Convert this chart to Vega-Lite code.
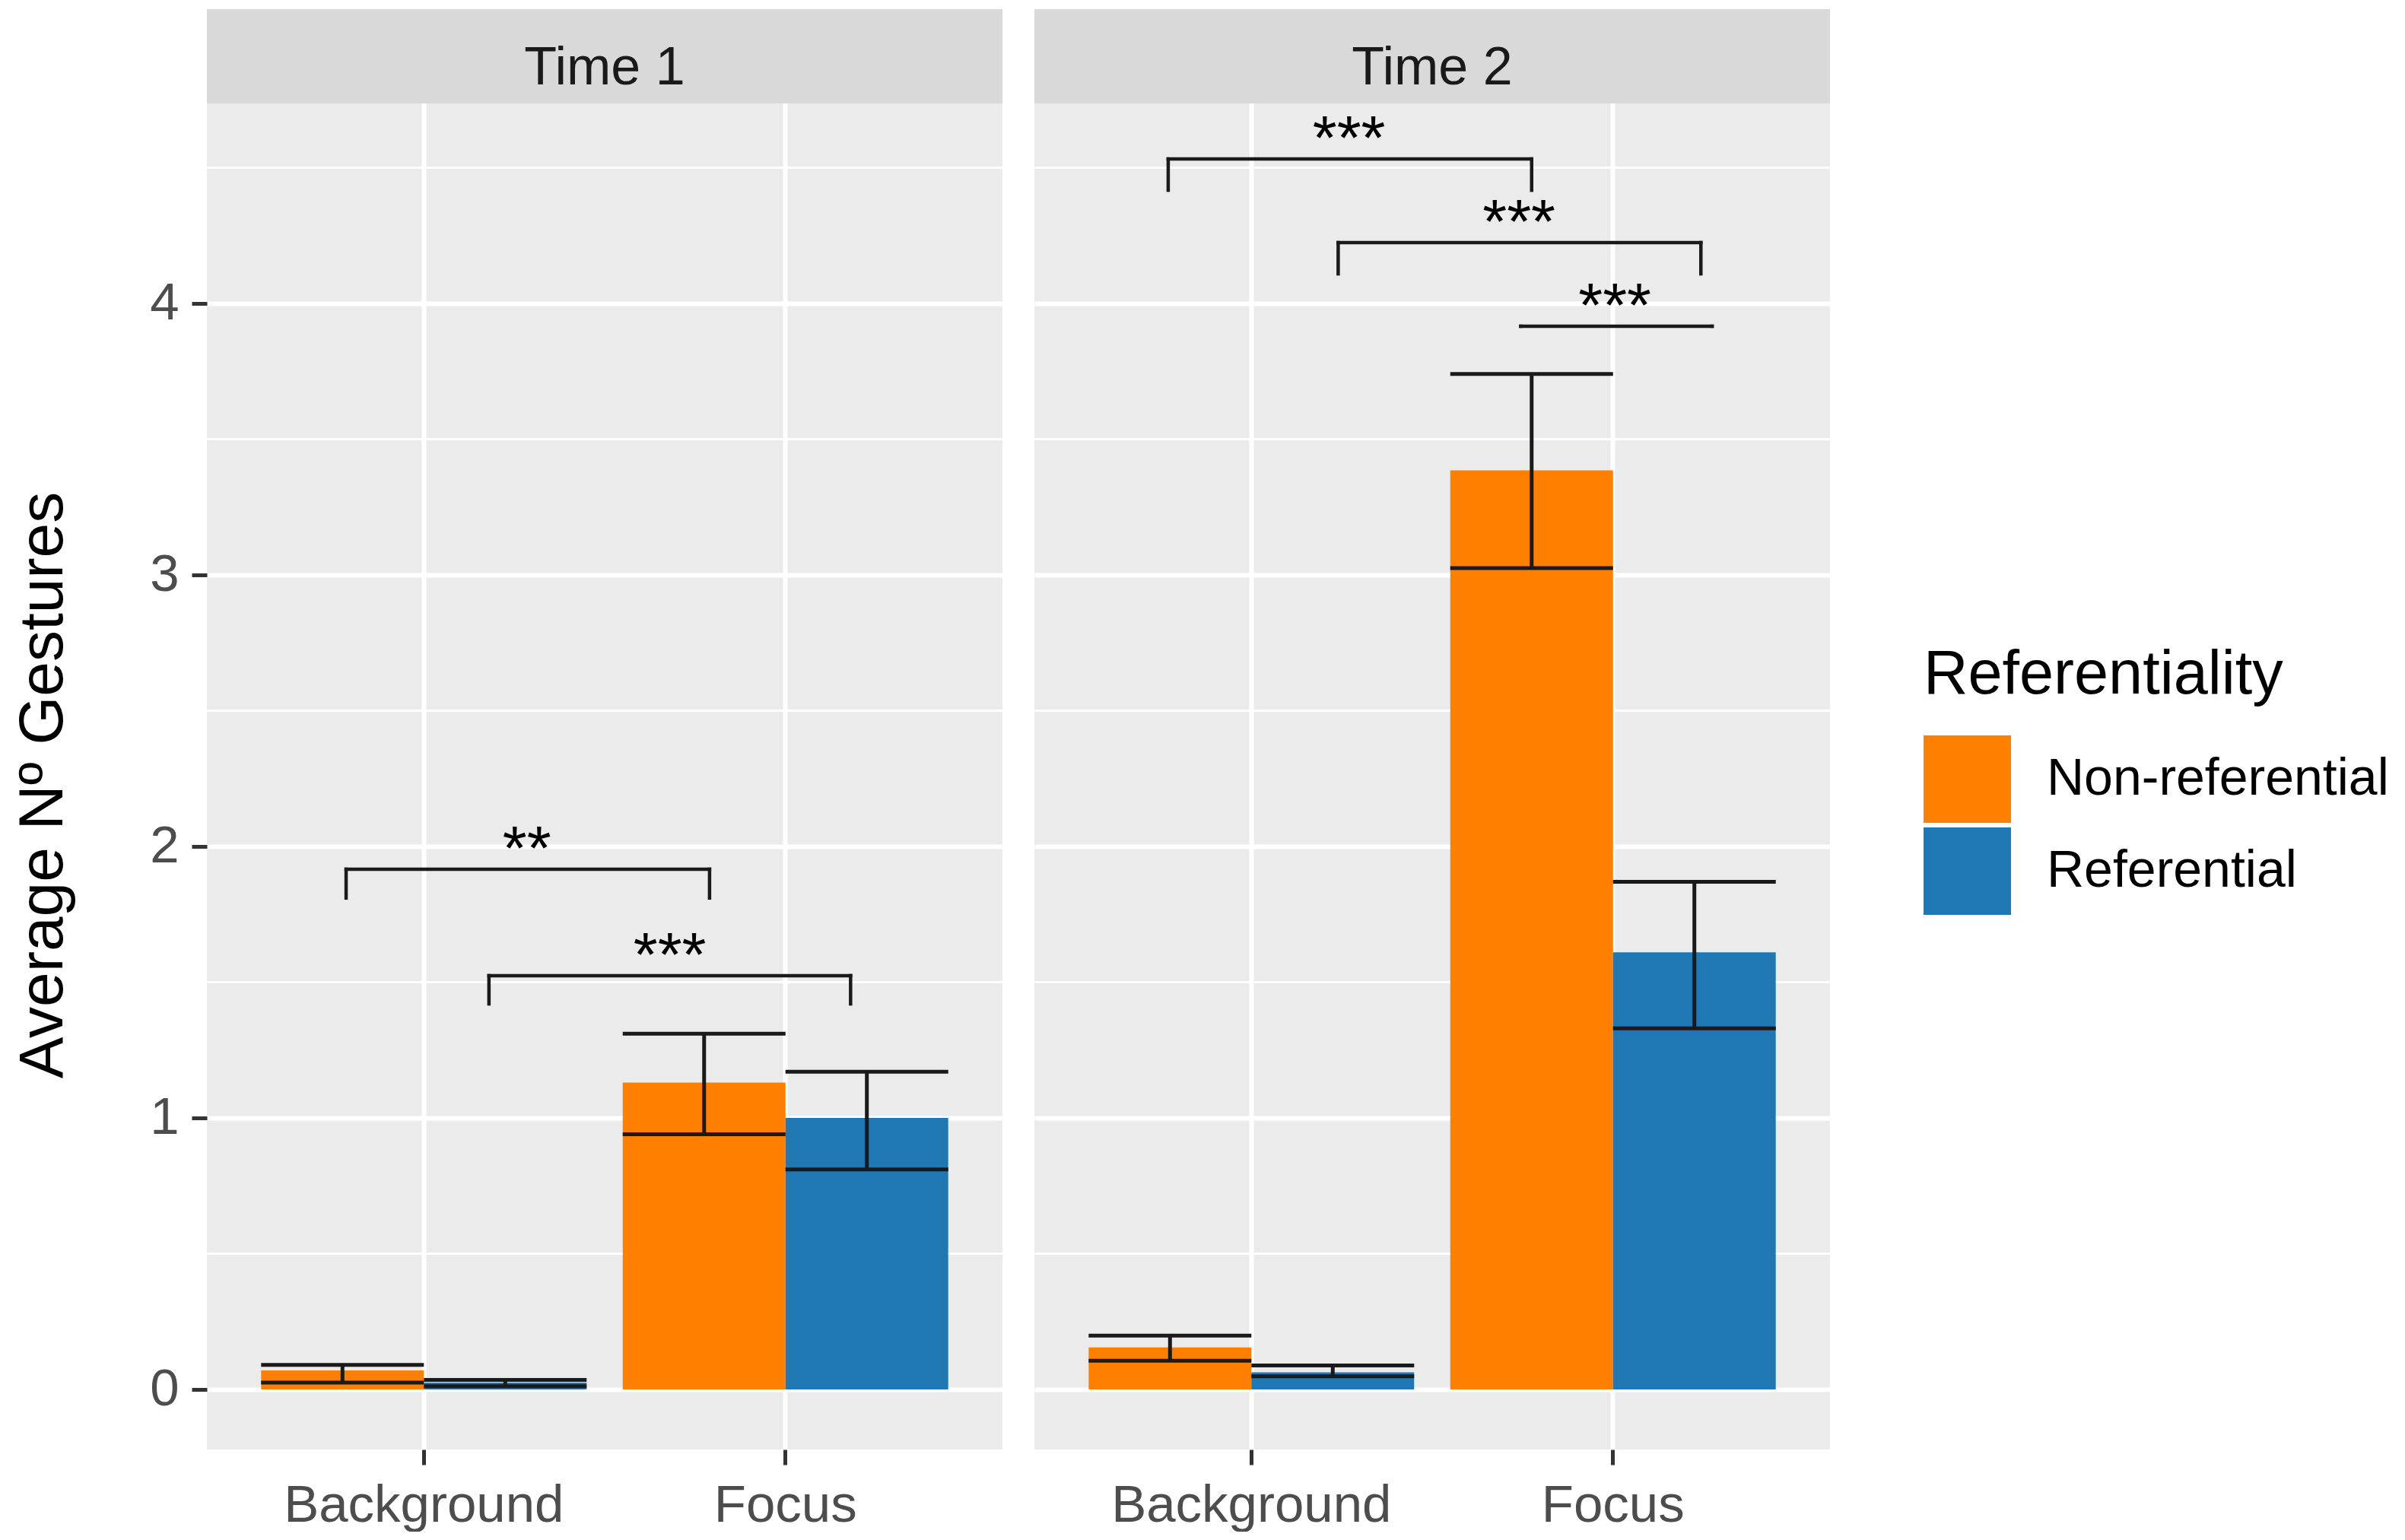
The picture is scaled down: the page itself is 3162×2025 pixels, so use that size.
{
  "$schema": "https://vega.github.io/schema/vega-lite/v6.json",
  "background": "white",
  "padding": {"left": 15, "top": 12, "right": 0, "bottom": 0},
  "data": {
    "values": [
      {"kind": "bar", "Time": "Time 1", "Stage": "Background", "Referentiality": "Non-referential", "mean": 0.07, "lo": 0.025, "hi": 0.09},
      {"kind": "bar", "Time": "Time 1", "Stage": "Background", "Referentiality": "Referential", "mean": 0.025, "lo": 0.012, "hi": 0.035},
      {"kind": "bar", "Time": "Time 1", "Stage": "Focus", "Referentiality": "Non-referential", "mean": 1.13, "lo": 0.94, "hi": 1.31},
      {"kind": "bar", "Time": "Time 1", "Stage": "Focus", "Referentiality": "Referential", "mean": 1.0, "lo": 0.81, "hi": 1.17},
      {"kind": "bar", "Time": "Time 2", "Stage": "Background", "Referentiality": "Non-referential", "mean": 0.155, "lo": 0.106, "hi": 0.198},
      {"kind": "bar", "Time": "Time 2", "Stage": "Background", "Referentiality": "Referential", "mean": 0.063, "lo": 0.048, "hi": 0.088},
      {"kind": "bar", "Time": "Time 2", "Stage": "Focus", "Referentiality": "Non-referential", "mean": 3.385, "lo": 3.025, "hi": 3.74},
      {"kind": "bar", "Time": "Time 2", "Stage": "Focus", "Referentiality": "Referential", "mean": 1.61, "lo": 1.33, "hi": 1.87},
      {"kind": "sig", "Time": "Time 1", "xmin": 0.785, "xmax": 1.79, "xmid": 1.285, "y": 1.916, "tip": 1.81, "label": "**"},
      {"kind": "sig", "Time": "Time 1", "xmin": 1.18, "xmax": 2.18, "xmid": 1.68, "y": 1.524, "tip": 1.42, "label": "***"},
      {"kind": "sig", "Time": "Time 2", "xmin": 0.77, "xmax": 1.775, "xmid": 1.27, "y": 4.532, "tip": 4.417, "label": "***"},
      {"kind": "sig", "Time": "Time 2", "xmin": 1.24, "xmax": 2.243, "xmid": 1.74, "y": 4.224, "tip": 4.109, "label": "***"},
      {"kind": "sig", "Time": "Time 2", "xmin": 1.745, "xmax": 2.274, "xmid": 2.005, "y": 3.916, "tip": 3.916, "label": "***"},
      {"kind": "strip", "Time": "Time 1"},
      {"kind": "strip", "Time": "Time 2"}
    ]
  },
  "spacing": 42,
  "hconcat": [
    {
      "width": 1046,
      "height": 1894,
      "transform": [{"filter": "datum.Time === 'Time 1'"}],
      "layer": [
        {
          "layer": [
            {
              "transform": [{"filter": "datum.kind === 'strip'"}],
              "mark": {"type": "rect", "color": "#D9D9D9"},
              "encoding": {
                "x": {"datum": 0.4, "type": "quantitative", "scale": {"domain": [0.4, 2.6], "nice": false, "zero": false}, "axis": null},
                "x2": {"datum": 2.6},
                "y": {"datum": 4.737, "type": "quantitative", "title": "Average Nº Gestures", "scale": {"domain": [-0.2213, 5.084], "nice": false, "zero": false}},
                "y2": {"datum": 5.084}
              }
            },
            {
              "transform": [{"filter": "datum.kind === 'strip'"}],
              "mark": {"type": "text", "fontSize": 70, "color": "#1A1A1A", "baseline": "alphabetic", "align": "center"},
              "encoding": {
                "x": {"datum": 1.5, "type": "quantitative"},
                "y": {"datum": 4.807, "type": "quantitative", "title": "Average Nº Gestures"},
                "text": {"field": "Time"}
              }
            },
            {
              "transform": [{"filter": "datum.kind === 'sig'"}],
              "mark": {"type": "rule", "color": "#1A1A1A", "strokeWidth": 4.5, "strokeCap": "square"},
              "encoding": {
                "x": {"field": "xmin", "type": "quantitative"},
                "x2": {"field": "xmax"},
                "y": {"field": "y", "type": "quantitative", "title": "Average Nº Gestures"}
              }
            },
            {
              "transform": [{"filter": "datum.kind === 'sig'"}],
              "mark": {"type": "rule", "color": "#1A1A1A", "strokeWidth": 4.5, "strokeCap": "square"},
              "encoding": {
                "x": {"field": "xmin", "type": "quantitative"},
                "y": {"field": "y", "type": "quantitative", "title": "Average Nº Gestures"},
                "y2": {"field": "tip"}
              }
            },
            {
              "transform": [{"filter": "datum.kind === 'sig'"}],
              "mark": {"type": "rule", "color": "#1A1A1A", "strokeWidth": 4.5, "strokeCap": "square"},
              "encoding": {
                "x": {"field": "xmax", "type": "quantitative"},
                "y": {"field": "y", "type": "quantitative", "title": "Average Nº Gestures"},
                "y2": {"field": "tip"}
              }
            },
            {
              "transform": [{"filter": "datum.kind === 'sig'"}],
              "mark": {"type": "text", "fontSize": 82, "color": "black", "baseline": "alphabetic", "align": "center", "dy": 0},
              "encoding": {
                "x": {"field": "xmid", "type": "quantitative"},
                "y": {"field": "y", "type": "quantitative", "title": "Average Nº Gestures"},
                "text": {"field": "label"}
              }
            }
          ]
        },
        {
          "transform": [{"filter": "datum.kind === 'bar'"}],
          "encoding": {
            "x": {
              "field": "Stage",
              "type": "nominal",
              "title": null,
              "scale": {"domain": ["Background", "Focus"], "paddingInner": 0.1, "paddingOuter": 0.15},
              "axis": {"orient": "bottom", "labelAngle": 0, "labelPadding": 19, "labelLimit": 0, "grid": true, "gridColor": "white", "gridWidth": 6, "bandPosition": 0.5}
            },
            "xOffset": {
              "field": "Referentiality",
              "type": "nominal",
              "scale": {"domain": ["Non-referential", "Referential"], "paddingInner": 0, "paddingOuter": 0}
            }
          },
          "layer": [
            {
              "mark": {"type": "bar", "opacity": 1},
              "encoding": {
                "y": {
                  "field": "mean",
                  "type": "quantitative",
                  "title": "Average Nº Gestures",
                  "scale": {"domain": [-0.2213, 5.084], "nice": false, "zero": false},
                  "axis": {
                    "values": [0, 0.5, 1, 1.5, 2, 2.5, 3, 3.5, 4, 4.5],
                    "labelExpr": "datum.value % 1 === 0 ? format(datum.value, 'd') : ''",
                    "grid": true,
                    "gridColor": "white",
                    "gridWidth": {"condition": {"test": "datum.value % 1 === 0", "value": 6}, "value": 3},
                    "tickOpacity": {"condition": {"test": "datum.value % 1 === 0", "value": 1}, "value": 0},
                    "labelPadding": 17,
                    "titlePadding": 98,
                    "titleY": 1020
                  }
                },
                "y2": {"datum": 0},
                "color": {
                  "field": "Referentiality",
                  "type": "nominal",
                  "scale": {"domain": ["Non-referential", "Referential"], "range": ["#FF7F00", "#1F78B4"]},
                  "legend": {
                    "orient": "none",
                    "legendX": 2257,
                    "legendY": 836,
                    "title": "Referentiality",
                    "titleFontSize": 81,
                    "titleFontWeight": "normal",
                    "titleColor": "black",
                    "titlePadding": 38,
                    "titleLimit": 0,
                    "labelFontSize": 68,
                    "labelColor": "black",
                    "labelOffset": 47,
                    "labelLimit": 0,
                    "symbolType": "square",
                    "symbolSize": 13225,
                    "symbolStrokeWidth": 0,
                    "symbolOpacity": 1,
                    "rowPadding": 6
                  }
                }
              }
            },
            {
              "mark": {"type": "rule", "color": "#1A1A1A", "strokeWidth": 5, "opacity": 1},
              "encoding": {
                "y": {"field": "lo", "type": "quantitative", "title": "Average Nº Gestures"},
                "y2": {"field": "hi"}
              }
            },
            {
              "mark": {"type": "tick", "color": "#1A1A1A", "thickness": 5, "size": 214, "opacity": 1},
              "encoding": {
                "y": {"field": "lo", "type": "quantitative", "title": "Average Nº Gestures"}
              }
            },
            {
              "mark": {"type": "tick", "color": "#1A1A1A", "thickness": 5, "size": 214, "opacity": 1},
              "encoding": {
                "y": {"field": "hi", "type": "quantitative", "title": "Average Nº Gestures"}
              }
            }
          ]
        }
      ],
      "resolve": {"scale": {"x": "independent"}, "axis": {"x": "independent"}}
    },
    {
      "width": 1046,
      "height": 1894,
      "transform": [{"filter": "datum.Time === 'Time 2'"}],
      "layer": [
        {
          "layer": [
            {
              "transform": [{"filter": "datum.kind === 'strip'"}],
              "mark": {"type": "rect", "color": "#D9D9D9"},
              "encoding": {
                "x": {"datum": 0.4, "type": "quantitative", "scale": {"domain": [0.4, 2.6], "nice": false, "zero": false}, "axis": null},
                "x2": {"datum": 2.6},
                "y": {"datum": 4.737, "type": "quantitative", "title": null, "scale": {"domain": [-0.2213, 5.084], "nice": false, "zero": false}},
                "y2": {"datum": 5.084}
              }
            },
            {
              "transform": [{"filter": "datum.kind === 'strip'"}],
              "mark": {"type": "text", "fontSize": 70, "color": "#1A1A1A", "baseline": "alphabetic", "align": "center"},
              "encoding": {
                "x": {"datum": 1.5, "type": "quantitative"},
                "y": {"datum": 4.807, "type": "quantitative", "title": null},
                "text": {"field": "Time"}
              }
            },
            {
              "transform": [{"filter": "datum.kind === 'sig'"}],
              "mark": {"type": "rule", "color": "#1A1A1A", "strokeWidth": 4.5, "strokeCap": "square"},
              "encoding": {
                "x": {"field": "xmin", "type": "quantitative"},
                "x2": {"field": "xmax"},
                "y": {"field": "y", "type": "quantitative", "title": null}
              }
            },
            {
              "transform": [{"filter": "datum.kind === 'sig'"}],
              "mark": {"type": "rule", "color": "#1A1A1A", "strokeWidth": 4.5, "strokeCap": "square"},
              "encoding": {
                "x": {"field": "xmin", "type": "quantitative"},
                "y": {"field": "y", "type": "quantitative", "title": null},
                "y2": {"field": "tip"}
              }
            },
            {
              "transform": [{"filter": "datum.kind === 'sig'"}],
              "mark": {"type": "rule", "color": "#1A1A1A", "strokeWidth": 4.5, "strokeCap": "square"},
              "encoding": {
                "x": {"field": "xmax", "type": "quantitative"},
                "y": {"field": "y", "type": "quantitative", "title": null},
                "y2": {"field": "tip"}
              }
            },
            {
              "transform": [{"filter": "datum.kind === 'sig'"}],
              "mark": {"type": "text", "fontSize": 82, "color": "black", "baseline": "alphabetic", "align": "center", "dy": 0},
              "encoding": {
                "x": {"field": "xmid", "type": "quantitative"},
                "y": {"field": "y", "type": "quantitative", "title": null},
                "text": {"field": "label"}
              }
            }
          ]
        },
        {
          "transform": [{"filter": "datum.kind === 'bar'"}],
          "encoding": {
            "x": {
              "field": "Stage",
              "type": "nominal",
              "title": null,
              "scale": {"domain": ["Background", "Focus"], "paddingInner": 0.1, "paddingOuter": 0.15},
              "axis": {"orient": "bottom", "labelAngle": 0, "labelPadding": 19, "labelLimit": 0, "grid": true, "gridColor": "white", "gridWidth": 6, "bandPosition": 0.5}
            },
            "xOffset": {
              "field": "Referentiality",
              "type": "nominal",
              "scale": {"domain": ["Non-referential", "Referential"], "paddingInner": 0, "paddingOuter": 0}
            }
          },
          "layer": [
            {
              "mark": {"type": "bar", "opacity": 1},
              "encoding": {
                "y": {
                  "field": "mean",
                  "type": "quantitative",
                  "title": null,
                  "scale": {"domain": [-0.2213, 5.084], "nice": false, "zero": false},
                  "axis": {
                    "values": [0, 0.5, 1, 1.5, 2, 2.5, 3, 3.5, 4, 4.5],
                    "labels": false,
                    "ticks": false,
                    "grid": true,
                    "gridColor": "white",
                    "gridWidth": {"condition": {"test": "datum.value % 1 === 0", "value": 6}, "value": 3}
                  }
                },
                "y2": {"datum": 0},
                "color": {
                  "field": "Referentiality",
                  "type": "nominal",
                  "scale": {"domain": ["Non-referential", "Referential"], "range": ["#FF7F00", "#1F78B4"]}
                }
              }
            },
            {
              "mark": {"type": "rule", "color": "#1A1A1A", "strokeWidth": 5, "opacity": 1},
              "encoding": {
                "y": {"field": "lo", "type": "quantitative", "title": null},
                "y2": {"field": "hi"}
              }
            },
            {
              "mark": {"type": "tick", "color": "#1A1A1A", "thickness": 5, "size": 214, "opacity": 1},
              "encoding": {
                "y": {"field": "lo", "type": "quantitative", "title": null}
              }
            },
            {
              "mark": {"type": "tick", "color": "#1A1A1A", "thickness": 5, "size": 214, "opacity": 1},
              "encoding": {
                "y": {"field": "hi", "type": "quantitative", "title": null}
              }
            }
          ]
        }
      ],
      "resolve": {"scale": {"x": "independent"}, "axis": {"x": "independent"}}
    }
  ],
  "resolve": {"scale": {"color": "shared"}, "legend": {"color": "shared"}},
  "config": {
    "font": "Liberation Sans",
    "view": {"fill": "#EBEBEB", "stroke": null},
    "axis": {
      "domain": false,
      "labelFontSize": 69,
      "labelColor": "#4D4D4D",
      "tickColor": "#333333",
      "tickSize": 20,
      "tickWidth": 5,
      "titleFontSize": 82,
      "titleFontWeight": "normal",
      "titleColor": "black"
    }
  }
}
